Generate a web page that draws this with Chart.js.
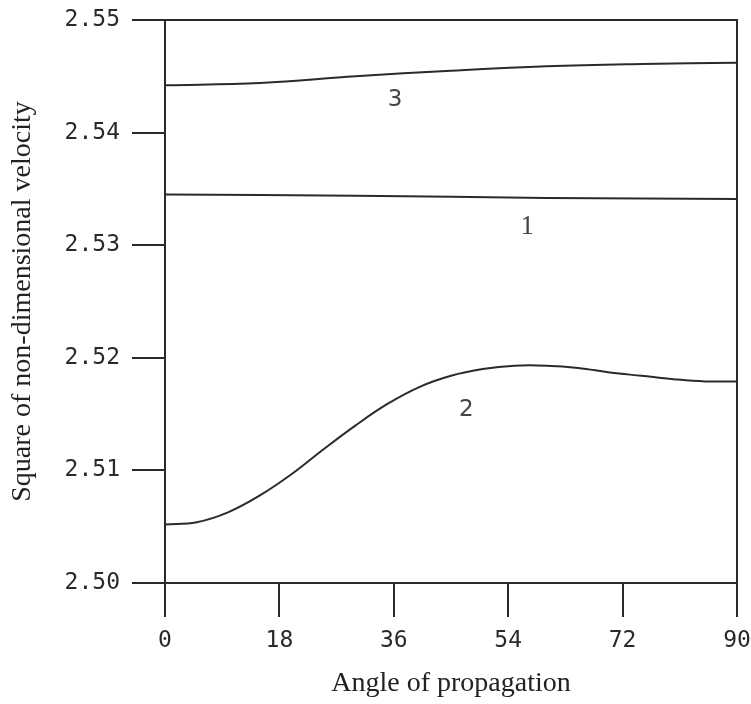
<!DOCTYPE html>
<html>
<head>
<meta charset="utf-8">
<script src="https://cdn.jsdelivr.net/npm/chart.js@4/dist/chart.umd.min.js"></script>
<style>
  html, body { margin: 0; padding: 0; background: #ffffff; }
  #wrap { width: 751px; height: 704px; position: relative; }
</style>
</head>
<body>
<div id="wrap"><canvas id="c" width="751" height="704"></canvas></div>
<script>
// ---- data ----
const angles1 = [0, 30, 60, 90];
const curve1  = [2.5345, 2.5344, 2.5342, 2.5341];
const angles2 = [0, 5, 10, 15, 20, 25, 30, 35, 40, 45, 50, 55, 60, 65, 70, 75, 80, 85, 90];
const curve2  = [2.5052, 2.5054, 2.5063, 2.5078, 2.5097, 2.5119, 2.5140, 2.5159, 2.5174, 2.5184,
                 2.5190, 2.5193, 2.5193, 2.5191, 2.5187, 2.5184, 2.5181, 2.5179, 2.5179];
const angles3 = [0, 15, 30, 45, 60, 75, 90];
const curve3  = [2.5442, 2.5444, 2.5450, 2.5455, 2.5459, 2.5461, 2.5462];
const xTicks = [0, 18, 36, 54, 72, 90];
const yTicks = [2.50, 2.51, 2.52, 2.53, 2.54, 2.55];
const curveNames = ['1', '2', '3'];
// label anchor points (angle, value) for the curve numbers
const labelAngles = [57.0, 47.4, 36.2];
const labelValues = [2.5316, 2.5154, 2.5429];

const INK = '#2a2a2a';

const toPts = (xs, vals) => xs.map((a, i) => ({ x: a, y: vals[i] }));

const framePlugin = {
  id: 'frame',
  afterDatasetsDraw(chart) {
    const { ctx, chartArea: a } = chart;
    ctx.save();
    ctx.strokeStyle = INK;
    ctx.lineWidth = 2;
    ctx.beginPath();
    ctx.moveTo(a.left, a.top);
    ctx.lineTo(a.right, a.top);
    ctx.lineTo(a.right, a.bottom);
    ctx.stroke();
    // curve number labels
    const xs = chart.scales.x, ys = chart.scales.y;
    ctx.fillStyle = '#444444';
    ctx.textAlign = 'center';
    ctx.textBaseline = 'middle';
    curveNames.forEach((n, i) => {
      ctx.font = n === '1' ? '27px "Liberation Serif"' : '23px "DejaVu Sans"';
      ctx.fillText(n, xs.getPixelForValue(labelAngles[i]), ys.getPixelForValue(labelValues[i]));
    });
    ctx.restore();
  }
};

const lineDs = (xs, vals) => ({
  data: toPts(xs, vals),
  borderColor: INK,
  borderWidth: 2,
  pointRadius: 0,
  fill: false,
  tension: 0.4
});

new Chart(document.getElementById('c'), {
  type: 'line',
  data: { datasets: [lineDs(angles1, curve1), lineDs(angles2, curve2), lineDs(angles3, curve3)] },
  options: {
    responsive: false,
    animation: false,
    events: [],
    layout: { padding: { left: 0, right: 14, top: 20, bottom: 0 } },
    plugins: { legend: { display: false }, tooltip: { enabled: false } },
    scales: {
      x: {
        type: 'linear',
        min: 0, max: 90,
        afterBuildTicks: (s) => { s.ticks = xTicks.map(v => ({ value: v })); },
        afterFit: (s) => { s.height = 704 - 583; s.paddingLeft = 0; s.paddingRight = 0; },
        ticks: {
          color: INK,
          font: { family: '"DejaVu Sans Mono"', size: 23 },
          padding: 10,
          maxRotation: 0,
          autoSkip: false,
          callback: (v) => String(v)
        },
        grid: { drawOnChartArea: false, drawTicks: true, tickLength: 34, color: INK, lineWidth: 2 },
        border: { display: true, color: INK, width: 2 },
        title: {
          display: true,
          text: 'Angle of propagation',
          color: '#222222',
          font: { family: '"Liberation Serif"', size: 28 },
          padding: { top: 0, bottom: 4 }
        }
      },
      y: {
        type: 'linear',
        min: 2.50, max: 2.55,
        afterBuildTicks: (s) => { s.ticks = yTicks.map(v => ({ value: v })); },
        afterFit: (s) => { s.width = 165; s.paddingTop = 0; s.paddingBottom = 0; },
        ticks: {
          color: INK,
          font: { family: '"DejaVu Sans Mono"', size: 23 },
          padding: 12,
          autoSkip: false,
          callback: (v) => Number(v).toFixed(2)
        },
        grid: { drawOnChartArea: false, drawTicks: true, tickLength: 33, color: INK, lineWidth: 2 },
        border: { display: true, color: INK, width: 2 },
        title: {
          display: true,
          text: 'Square of non-dimensional velocity',
          color: '#222222',
          font: { family: '"Liberation Serif"', size: 28 },
          padding: { top: 6, bottom: 0 }
        }
      }
    }
  },
  plugins: [framePlugin]
});
</script>
</body>
</html>
